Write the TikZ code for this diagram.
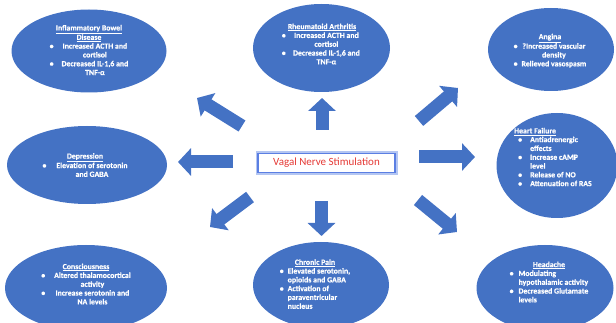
\documentclass[tikz,border=0pt]{standalone}
\usepackage{fontspec}
\setmainfont{Carlito}[BoldFeatures={FakeBold=0.6}]
\usetikzlibrary{shapes.geometric,arrows.meta}
\definecolor{vblue}{HTML}{4472C4}
\definecolor{vred}{HTML}{E53935}
\definecolor{glow}{HTML}{B4C6F2}
\definecolor{boxline}{HTML}{5B7FE3}
\newcommand{\hdr}[1]{\underline{#1}}
\begin{document}
\begin{tikzpicture}[x=1pt,y=-1pt,
  ell/.style={ellipse, fill=vblue, draw=none, inner sep=0pt},
  txt/.style={text=white, font=\fontsize{7.8}{8.8}\selectfont\bfseries, inner sep=0pt},
  barrow/.style={draw=vblue, line width=13pt, -{Triangle[length=13pt,width=27pt]}}]
\useasboundingbox (0,0) rectangle (616,323);
\clip (0,0) rectangle (616,323);

% ellipses
\node[ell, minimum width=155pt, minimum height=83pt] (ibd) at (89,51) {};
\node[ell, minimum width=137pt, minimum height=88pt] (ra) at (321.5,48) {};
\node[ell, minimum width=126pt, minimum height=83pt] (ang) at (551,49.5) {};
\node[ell, minimum width=160pt, minimum height=78pt] (dep) at (87,165) {};
\node[ell, minimum width=121pt, minimum height=105pt] (hf) at (557,165.5) {};
\node[ell, minimum width=162pt, minimum height=86pt] (con) at (86,288) {};
\node[ell, minimum width=136pt, minimum height=86pt] (cp) at (321,285) {};
\node[ell, minimum width=137pt, minimum height=86pt] (hd) at (545,288) {};

% texts
\node[txt] (ibdt) at (89,51) {\begin{tabular}{@{}l@{\hspace{8pt}}c@{}}
\multicolumn{2}{c}{\hdr{Inflammatory Bowel}}\\
\multicolumn{2}{c}{\hdr{Disease}}\\
\textbullet & Increased ACTH and\\
 & cortisol\\
\textbullet & Decreased IL-1,6 and\\
 & TNF-α
\end{tabular}};

\node[txt] (rat) at (322,45) {\begin{tabular}{@{}l@{\hspace{5pt}}c@{}}
\multicolumn{2}{c}{\hdr{Rheumatoid Arthritis}}\\
\textbullet & Increased ACTH and\\
 & cortisol\\
\textbullet & Decreased IL-1,6 and\\
 & TNF-α
\end{tabular}};

\node[txt] (angt) at (550,51) {\begin{tabular}{@{}l@{\hspace{4pt}}c@{}}
\multicolumn{2}{c}{\hdr{Angina}}\\
\textbullet & ?Increased vascular\\
 & density\\
\textbullet & Relieved vasospasm
\end{tabular}};

\node[txt] (dept) at (85,166) {\begin{tabular}{@{}l@{\hspace{10pt}}c@{}}
\multicolumn{2}{c}{\hdr{Depression}}\\
\textbullet & Elevation of serotonin\\
 & and GABA
\end{tabular}};

\node[txt, anchor=west] (hft) at (514,158) {\begin{tabular}{@{}p{16pt}@{}l@{}}
\multicolumn{2}{@{}l@{}}{\hdr{Heart Failure}}\\
\hspace{4pt}\textbullet & Antiadrenergic\\
 & effects\\
\hspace{4pt}\textbullet & Increase cAMP\\
 & level\\
\hspace{4pt}\textbullet & Release of NO\\
\hspace{4pt}\textbullet & Attenuation of RAS
\end{tabular}};

\node[txt] (cont) at (86,285) {\begin{tabular}{@{}l@{\hspace{9pt}}c@{}}
\multicolumn{2}{c}{\hdr{Consciousness}}\\
\textbullet & Altered thalamocortical\\
 & activity\\
\textbullet & Increase serotonin and\\
 & NA levels
\end{tabular}};

\node[txt] (cpt) at (315,285) {\begin{tabular}{@{}l@{\hspace{4pt}}l@{}}
\multicolumn{2}{c}{\hdr{Chronic Pain}}\\
\textbullet & Elevated serotonin,\\
 & opioids and GABA\\
\textbullet & Activation of\\
 & paraventricular\\
 & nucleus
\end{tabular}};

\node[txt] (hdt) at (549,283) {\begin{tabular}{@{}l@{\hspace{5pt}}l@{}}
\multicolumn{2}{c}{\hdr{Headache}}\\
\textbullet & Modulating\\
 & hypothalamic activity\\
\textbullet & Decreased Glutamate\\
 & levels
\end{tabular}};

% centre box
\node[draw=boxline, line width=1.6pt, fill=white,
      preaction={draw=glow, line width=5pt},
      minimum width=137pt, minimum height=19pt, inner sep=0pt,
      text=vred, font=\fontsize{11}{13}\selectfont] (vns) at (326.5,163) {Vagal Nerve Stimulation};

% block arrows
\coordinate (uA) at (322,130);   \coordinate (uB) at (322,98);
\coordinate (dA) at (321.5,201); \coordinate (dB) at (321.5,236);
\coordinate (lA) at (233,162);   \coordinate (lB) at (178,162);
\coordinate (rA) at (419,157);   \coordinate (rB) at (475,157);
\coordinate (ulA) at (242,126);  \coordinate (ulB) at (197,98);
\coordinate (dlA) at (250,197);  \coordinate (dlB) at (210,227);
\coordinate (urA) at (419,121);  \coordinate (urB) at (458,88);
\coordinate (drA) at (418,200);  \coordinate (drB) at (457,232);
\draw[barrow] (uA) -- (uB);
\draw[barrow] (dA) -- (dB);
\draw[barrow] (lA) -- (lB);
\draw[barrow] (rA) -- (rB);
\draw[barrow] (ulA) -- (ulB);
\draw[barrow] (dlA) -- (dlB);
\draw[barrow] (urA) -- (urB);
\draw[barrow] (drA) -- (drB);
\end{tikzpicture}
\end{document}
